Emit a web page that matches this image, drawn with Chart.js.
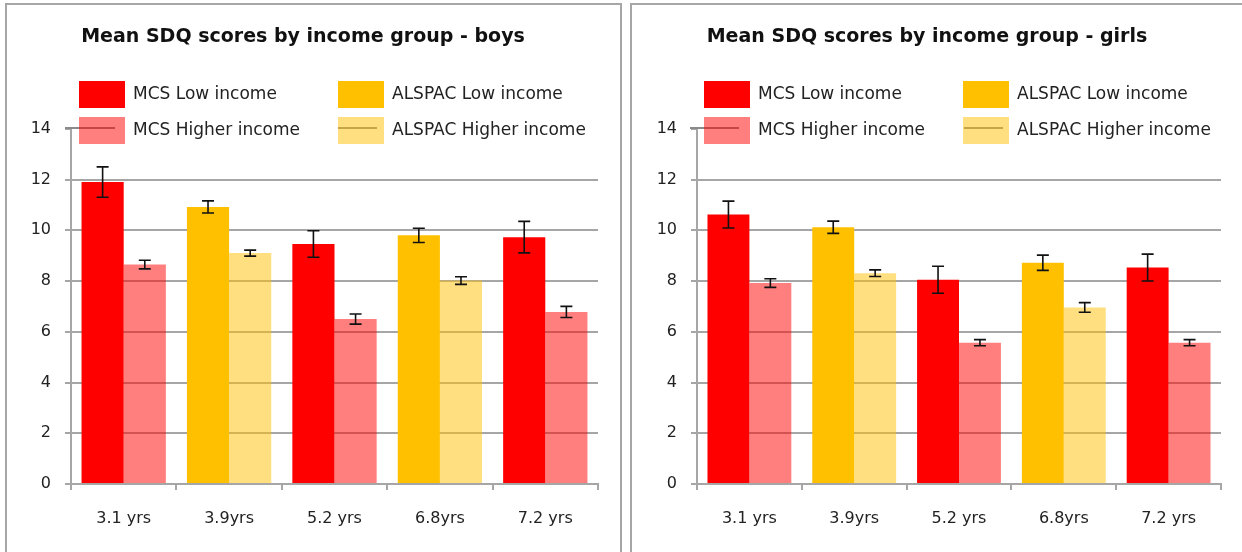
<!DOCTYPE html>
<html>
<head>
<meta charset="utf-8">
<script src="https://cdn.jsdelivr.net/npm/chart.js@4.4.1/dist/chart.umd.min.js"></script>
<style>
  body { margin: 0; background: #fff; width: 1242px; height: 552px; overflow: hidden; position: relative; font-family: "DejaVu Sans", sans-serif; }
  .panel { position: absolute; top: 3px; height: 620px; border: 2px solid #a6a6a6; box-sizing: border-box; }
  canvas { position: absolute; }
  .sw { position: absolute; width: 46px; height: 27px; }
  .ln { position: absolute; height: 2px; background: #8a8a8a; }
  .lt { position: absolute; font-size: 17px; color: #222; white-space: nowrap; line-height: 20px; }
</style>
</head>
<body>
<div class="panel" style="left:5px; width:617px;"></div>
<div class="panel" style="left:630px; width:640px;"></div>
<canvas id="boys" width="612" height="546" style="left:8px; top:6px;"></canvas>
<canvas id="girls" width="609" height="546" style="left:633px; top:6px;"></canvas>
<div id="legends"></div>
<script>
// =========================
// DATA
// =========================
const categories = ["3.1 yrs", "3.9yrs", "5.2 yrs", "6.8yrs", "7.2 yrs"];
const yTicks = [0, 2, 4, 6, 8, 10, 12, 14];

// boys
const mcsLowBoys     = [11.9, null, 9.46, null, 9.73];
const mcsHighBoys    = [8.65, null, 6.5, null, 6.78];
const alspacLowBoys  = [null, 10.92, null, 9.8, null];
const alspacHighBoys = [null, 9.1, null, 8.02, null];
const mcsLowBoysErr     = [0.6, null, 0.52, null, 0.62];
const mcsHighBoysErr    = [0.17, null, 0.2, null, 0.22];
const alspacLowBoysErr  = [null, 0.24, null, 0.28, null];
const alspacHighBoysErr = [null, 0.12, null, 0.15, null];

// girls
const mcsLowGirls     = [10.62, null, 8.05, null, 8.53];
const mcsHighGirls    = [7.92, null, 5.57, null, 5.57];
const alspacLowGirls  = [null, 10.12, null, 8.72, null];
const alspacHighGirls = [null, 8.31, null, 6.96, null];
const mcsLowGirlsErr     = [0.53, null, 0.53, null, 0.53];
const mcsHighGirlsErr    = [0.17, null, 0.12, null, 0.12];
const alspacLowGirlsErr  = [null, 0.24, null, 0.3, null];
const alspacHighGirlsErr = [null, 0.13, null, 0.19, null];

const seriesNames = ["MCS Low income", "MCS Higher income", "ALSPAC Low income", "ALSPAC Higher income"];
const seriesColors = ["#ff0000", "rgba(255,0,0,0.5)", "#ffc000", "rgba(255,192,0,0.5)"];

// =========================
// ERROR BARS
// =========================
const errorBars = {
    id: "errorBars",
    afterDatasetsDraw(chart) {
        const ctx = chart.ctx;
        const y = chart.scales.y;
        ctx.save();
        ctx.strokeStyle = "#111";
        ctx.lineWidth = 1.6;
        chart.data.datasets.forEach((ds, i) => {
            const meta = chart.getDatasetMeta(i);
            meta.data.forEach((bar, j) => {
                const v = ds.data[j];
                const e = ds.errors[j];
                if (v == null || e == null) return;
                const x = bar.x;
                const y1 = y.getPixelForValue(v + e);
                const y2 = y.getPixelForValue(v - e);
                ctx.beginPath();
                ctx.moveTo(x, y1); ctx.lineTo(x, y2);
                ctx.moveTo(x - 6, y1); ctx.lineTo(x + 6, y1);
                ctx.moveTo(x - 6, y2); ctx.lineTo(x + 6, y2);
                ctx.stroke();
            });
        });
        ctx.restore();
    }
};

function grafico(id, titulo, series, erros, yWidth, padRight) {
    return new Chart(document.getElementById(id), {
        type: "bar",
        data: {
            labels: categories,
            datasets: series.map((d, i) => ({
                label: seriesNames[i],
                data: d,
                errors: erros[i],
                backgroundColor: seriesColors[i],
                skipNull: true,
                categoryPercentage: 0.8,
                barPercentage: 1.0
            }))
        },
        options: {
            responsive: false,
            animation: false,
            layout: { padding: { left: 0, right: padRight, top: 0, bottom: 0 } },
            plugins: {
                legend: { display: false },
                tooltip: { enabled: false },
                title: {
                    display: true,
                    text: titulo,
                    color: "#111",
                    font: { family: "DejaVu Sans", size: 19, weight: "bold" },
                    padding: { top: 20, bottom: 80 }
                }
            },
            scales: {
                x: {
                    afterFit: s => { s.height = 68; },
                    grid: {
                        drawOnChartArea: false,
                        offset: true,
                        tickLength: 6,
                        color: "#a6a6a6",
                        lineWidth: 2
                    },
                    border: { color: "#a6a6a6", width: 2 },
                    ticks: {
                        color: "#222",
                        padding: 19,
                        font: { family: "DejaVu Sans", size: 16 }
                    }
                },
                y: {
                    min: 0,
                    max: 14,
                    afterFit: s => { s.width = yWidth; },
                    afterBuildTicks: s => { s.ticks = yTicks.map(v => ({ value: v })); },
                    grid: {
                        color: c => (c.tick && c.tick.value === 14) ? "rgba(0,0,0,0)" : "#a6a6a6",
                        tickColor: "#a6a6a6",
                        lineWidth: 2,
                        tickLength: 6
                    },
                    border: { color: "#a6a6a6", width: 2 },
                    ticks: {
                        color: "#222",
                        padding: 14,
                        font: { family: "DejaVu Sans", size: 16 }
                    }
                }
            }
        },
        plugins: [errorBars]
    });
}

// =========================
// LEGEND (html)
// =========================
function legenda(cfg) {
    const box = document.getElementById("legends");
    cfg.forEach(it => {
        if (it.line) {
            const l = document.createElement("div");
            l.className = "ln";
            l.style.left = it.line[0] + "px";
            l.style.width = (it.line[1] - it.line[0]) + "px";
            l.style.top = (it.y + 10) + "px";
            box.appendChild(l);
        }
        const s = document.createElement("div");
        s.className = "sw";
        s.style.left = it.x + "px";
        s.style.top = it.y + "px";
        s.style.background = it.color;
        box.appendChild(s);
        const t = document.createElement("div");
        t.className = "lt";
        t.style.left = (it.x + 54) + "px";
        t.style.top = (it.y + 2) + "px";
        t.textContent = it.text;
        box.appendChild(t);
    });
}

window.onload = () => {
    grafico("boys", "Mean SDQ scores by income group - boys",
        [mcsLowBoys, mcsHighBoys, alspacLowBoys, alspacHighBoys],
        [mcsLowBoysErr, mcsHighBoysErr, alspacLowBoysErr, alspacHighBoysErr], 63, 22);
    grafico("girls", "Mean SDQ scores by income group - girls",
        [mcsLowGirls, mcsHighGirls, alspacLowGirls, alspacHighGirls],
        [mcsLowGirlsErr, mcsHighGirlsErr, alspacLowGirlsErr, alspacHighGirlsErr], 64, 21);

    legenda([
        { x: 79, y: 81, color: seriesColors[0], text: seriesNames[0] },
        { x: 79, y: 117, color: seriesColors[1], text: seriesNames[1], line: [65, 115] },
        { x: 338, y: 81, color: seriesColors[2], text: seriesNames[2] },
        { x: 338, y: 117, color: seriesColors[3], text: seriesNames[3], line: [338, 377] },
        { x: 704, y: 81, color: seriesColors[0], text: seriesNames[0] },
        { x: 704, y: 117, color: seriesColors[1], text: seriesNames[1], line: [690, 739] },
        { x: 963, y: 81, color: seriesColors[2], text: seriesNames[2] },
        { x: 963, y: 117, color: seriesColors[3], text: seriesNames[3], line: [964, 1003] }
    ]);
};
</script>
</body>
</html>
